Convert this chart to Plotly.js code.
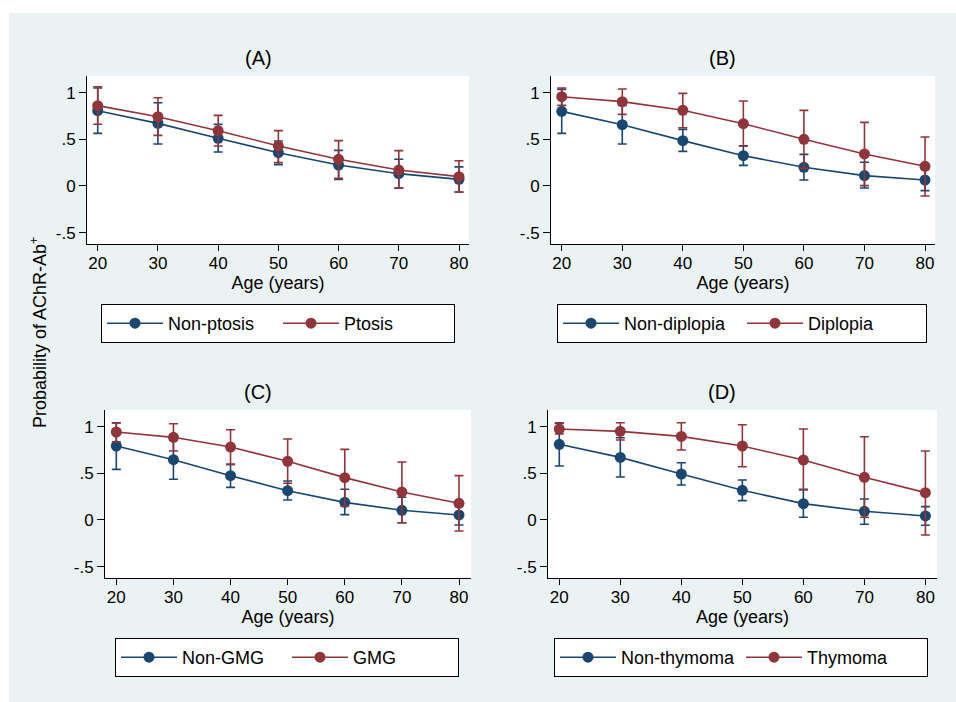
<!DOCTYPE html>
<html><head><meta charset="utf-8">
<script src="https://cdn.plot.ly/plotly-3.0.1.min.js"></script>
<style>
html,body{margin:0;padding:0;background:#fff;}
#bg{position:absolute;left:9px;top:13px;width:947px;height:689px;background:#EAF2F3;}
#chart{position:absolute;left:0;top:0;width:956px;height:702px;}
</style>
</head><body><div id="bg"></div><div id="chart"></div>
<script>
const ages = [20, 30, 40, 50, 60, 70, 80];

// Panel A
const A_nonptosis_mean = [0.807, 0.671, 0.511, 0.357, 0.225, 0.132, 0.071];
const A_nonptosis_lo   = [0.564, 0.450, 0.364, 0.229, 0.071, -0.022, -0.065];
const A_nonptosis_hi   = [1.050, 0.893, 0.660, 0.482, 0.382, 0.286, 0.205];
const A_ptosis_mean    = [0.861, 0.743, 0.593, 0.429, 0.286, 0.171, 0.100];
const A_ptosis_lo      = [0.661, 0.543, 0.429, 0.250, 0.082, -0.025, -0.064];
const A_ptosis_hi      = [1.064, 0.946, 0.757, 0.593, 0.486, 0.379, 0.271];

// Panel B
const B_nondip_mean = [0.800, 0.657, 0.486, 0.325, 0.200, 0.111, 0.064];
const B_nondip_lo   = [0.564, 0.450, 0.371, 0.221, 0.064, -0.021, -0.050];
const B_nondip_hi   = [1.036, 0.864, 0.607, 0.430, 0.339, 0.254, 0.179];
const B_dip_mean    = [0.957, 0.904, 0.811, 0.668, 0.500, 0.343, 0.211];
const B_dip_lo      = [0.864, 0.768, 0.625, 0.429, 0.189, 0.004, -0.107];
const B_dip_hi      = [1.050, 1.040, 0.993, 0.911, 0.811, 0.682, 0.525];

// Panel C
const C_nongmg_mean = [0.793, 0.646, 0.475, 0.314, 0.189, 0.104, 0.054];
const C_nongmg_lo   = [0.543, 0.436, 0.350, 0.214, 0.057, -0.029, -0.054];
const C_nongmg_hi   = [1.040, 0.856, 0.596, 0.418, 0.329, 0.243, 0.150];
const C_gmg_mean    = [0.943, 0.886, 0.782, 0.629, 0.454, 0.300, 0.179];
const C_gmg_lo      = [0.839, 0.739, 0.596, 0.393, 0.150, -0.029, -0.118];
const C_gmg_hi      = [1.043, 1.032, 0.968, 0.868, 0.757, 0.621, 0.475];

// Panel D
const D_nonthy_mean = [0.811, 0.671, 0.493, 0.318, 0.175, 0.093, 0.043];
const D_nonthy_lo   = [0.579, 0.461, 0.375, 0.207, 0.029, -0.046, -0.057];
const D_nonthy_hi   = [1.043, 0.882, 0.614, 0.429, 0.329, 0.225, 0.143];
const D_thy_mean    = [0.975, 0.950, 0.896, 0.793, 0.643, 0.457, 0.293];
const D_thy_lo      = [0.921, 0.857, 0.750, 0.571, 0.321, 0.029, -0.161];
const D_thy_hi      = [1.036, 1.043, 1.043, 1.021, 0.975, 0.893, 0.739];

const panelTitles = ['(A)', '(B)', '(C)', '(D)'];
const seriesNames = [['Non-ptosis', 'Ptosis'], ['Non-diplopia', 'Diplopia'], ['Non-GMG', 'GMG'], ['Non-thymoma', 'Thymoma']];
const yTickVals = [-0.5, 0, 0.5, 1];
const yTickText = ['-.5', '0', '.5', '1'];
const xTickVals = [20, 30, 40, 50, 60, 70, 80];
const xTitle = 'Age (years)';
const yTitle = 'Probability of AChR-Ab<sup>+</sup>';

const NAVY = '#1A476F', MAROON = '#90353B';
const FONT = 'Liberation Sans, Arial, sans-serif';
const W = 956, H = 702;

function tr(mean, lo, hi, name, color, n, leg) {
  return {
    x: ages, y: mean, name: name, type: 'scatter', mode: 'lines+markers',
    xaxis: 'x' + (n === 1 ? '' : n), yaxis: 'y' + (n === 1 ? '' : n),
    legend: leg,
    line: {color: color, width: 1.6},
    marker: {color: color, size: 11, symbol: 'circle'},
    error_y: {type: 'data', symmetric: false,
      array: hi.map((v, i) => v - mean[i]),
      arrayminus: mean.map((v, i) => v - lo[i]),
      color: color, thickness: 1.6, width: 4.5},
    hoverinfo: 'x+y+name'
  };
}

const data = [
  tr(A_nonptosis_mean, A_nonptosis_lo, A_nonptosis_hi, seriesNames[0][0], NAVY, 1, 'legend'),
  tr(A_ptosis_mean, A_ptosis_lo, A_ptosis_hi, seriesNames[0][1], MAROON, 1, 'legend'),
  tr(B_nondip_mean, B_nondip_lo, B_nondip_hi, seriesNames[1][0], NAVY, 2, 'legend2'),
  tr(B_dip_mean, B_dip_lo, B_dip_hi, seriesNames[1][1], MAROON, 2, 'legend2'),
  tr(C_nongmg_mean, C_nongmg_lo, C_nongmg_hi, seriesNames[2][0], NAVY, 3, 'legend3'),
  tr(C_gmg_mean, C_gmg_lo, C_gmg_hi, seriesNames[2][1], MAROON, 3, 'legend3'),
  tr(D_nonthy_mean, D_nonthy_lo, D_nonthy_hi, seriesNames[3][0], NAVY, 4, 'legend4'),
  tr(D_thy_mean, D_thy_lo, D_thy_hi, seriesNames[3][1], MAROON, 4, 'legend4')
];

const boxes = [
  {l: 87, r: 469, t: 76, b: 244, xr: [18.22, 81.66]},
  {l: 551, r: 935, t: 76, b: 244, xr: [18.23, 81.65]},
  {l: 105, r: 471, t: 410, b: 578, xr: [18.02, 82.1]},
  {l: 548, r: 937, t: 410, b: 578, xr: [18.15, 81.9]}
];
const legendBoxes = [{l: 101, t: 304, e: 105}, {l: 557, t: 304, e: 113}, {l: 115, t: 638, e: 100}, {l: 554, t: 638, e: 115}];
const titleCenters = [[258, 58], [722, 58], [258, 392], [722, 392]];

const layout = {
  width: W, height: H,
  margin: {l: 0, r: 0, t: 0, b: 0},
  paper_bgcolor: 'rgba(0,0,0,0)',
  plot_bgcolor: '#FFFFFF',
  font: {family: FONT, color: '#000', size: 16},
  showlegend: true,
  annotations: [],
  hovermode: 'closest'
};

boxes.forEach((bx, i) => {
  const s = i === 0 ? '' : (i + 1);
  layout['xaxis' + s] = {
    domain: [bx.l / W, bx.r / W], range: bx.xr, anchor: 'y' + s,
    tickmode: 'array', tickvals: xTickVals, ticks: 'outside', ticklen: 6, tickwidth: 1, tickcolor: '#000',
    showline: true, linecolor: '#000', linewidth: 1, showgrid: false, zeroline: false,
    tickfont: {family: FONT, size: 17, color: '#000'},
    ticklabelstandoff: -2,
    title: {text: xTitle, font: {family: FONT, size: 18, color: '#000'}, standoff: 2},
    fixedrange: true
  };
  layout['yaxis' + s] = {
    domain: [1 - bx.b / H, 1 - bx.t / H], range: [-0.622, 1.179], anchor: 'x' + s,
    tickmode: 'array', tickvals: yTickVals, ticktext: yTickText, ticks: 'outside', ticklen: 7, tickwidth: 1, tickcolor: '#000',
    showline: true, linecolor: '#000', linewidth: 1, showgrid: false, zeroline: false,
    tickfont: {family: FONT, size: 17, color: '#000'},
    fixedrange: true
  };
  const lb = legendBoxes[i];
  layout['legend' + s] = {
    x: lb.l / W, y: 1 - lb.t / H, xanchor: 'left', yanchor: 'top',
    orientation: 'h', bgcolor: '#FFFFFF', bordercolor: '#000', borderwidth: 1,
    font: {family: FONT, size: 18, color: '#000'},
    itemwidth: 56,
    entrywidth: lb.e, entrywidthmode: 'pixels', itemclick: false, itemdoubleclick: false
  };
  layout.annotations.push({
    text: panelTitles[i], x: titleCenters[i][0] / W, y: 1 - titleCenters[i][1] / H,
    xref: 'paper', yref: 'paper', xanchor: 'center', yanchor: 'middle', showarrow: false,
    font: {family: FONT, size: 20, color: '#000'}
  });
});

layout.annotations.push({
  text: yTitle, x: 38 / W, y: 1 - 333 / H, xref: 'paper', yref: 'paper',
  xanchor: 'center', yanchor: 'middle', showarrow: false, textangle: -90,
  font: {family: FONT, size: 18, color: '#000'}
});

Plotly.newPlot('chart', data, layout, {displayModeBar: false});
</script>
</body></html>
